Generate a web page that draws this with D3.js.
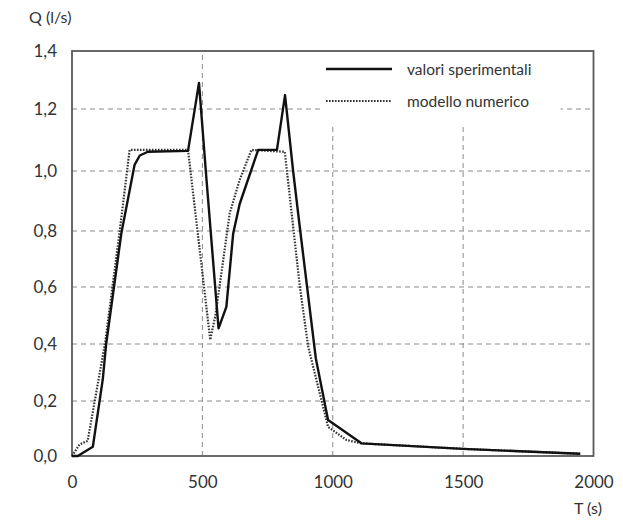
<!DOCTYPE html>
<html><head><meta charset="utf-8">
<script src="https://cdn.jsdelivr.net/npm/d3@7"></script>
<style>
html,body{margin:0;padding:0;background:#fff;}
svg{display:block;font-family:Lato, "DejaVu Sans", sans-serif;}
</style></head>
<body>
<svg id="chart" width="623" height="522"></svg>
<script>
// ---- data ----
const xTicks = [0, 500, 1000, 1500, 2000];
const yTicks = [0, 0.2, 0.4, 0.6, 0.8, 1.0, 1.2, 1.4];
const seriesNames = ["valori sperimentali", "modello numerico"];
const expT = [0, 22, 80, 118, 131, 189, 240, 260, 291, 445, 487, 515, 562, 592, 618, 643, 714, 786, 817, 848, 874, 935, 982, 1110, 1500, 1949];
const expQ = [0, 0, 0.034, 0.276, 0.4, 0.79, 1.02, 1.05, 1.062, 1.065, 1.29, 0.98, 0.455, 0.53, 0.79, 0.89, 1.068, 1.068, 1.248, 1.0, 0.81, 0.35, 0.131, 0.046, 0.026, 0.008];
const modT = [0, 29, 60, 128, 183, 221, 445, 530, 550, 573, 605, 643, 688, 816, 874, 906, 982, 1053, 1110, 1500, 1949];
const modQ = [0, 0.042, 0.055, 0.41, 0.8, 1.068, 1.068, 0.415, 0.5, 0.65, 0.86, 0.97, 1.068, 1.062, 0.6, 0.39, 0.106, 0.058, 0.046, 0.026, 0.008];

// ---- layout ----
const svg = d3.select("#chart");
const L = 72, R = 593.5, T = 51, B = 456;
const x = d3.scaleLinear().domain([0, 2000]).range([L, R]);
// scanned original has slightly uneven spacing: piecewise-linear scale
const y = d3.scaleLinear().domain(yTicks).range([456, 401, 344, 287, 231, 171, 109, 51]);
const fmt = d3.formatLocale({decimal: ",", thousands: ".", grouping: [3], currency: ["", ""]}).format(".1f");

// grid
const grid = svg.append("g").attr("stroke", "#8a8a8a").attr("stroke-width", 1).attr("stroke-dasharray", "5,4");
grid.selectAll(".hg").data(yTicks.filter(d => d > 0 && d < 1.4)).join("line")
  .attr("x1", L).attr("x2", R).attr("y1", d => y(d)).attr("y2", d => y(d));
grid.selectAll(".vg").data(xTicks.filter(d => d > 0 && d < 2000)).join("line")
  .attr("x1", d => x(d)).attr("x2", d => x(d)).attr("y1", B).attr("y2", T);

// legend box (hides grid beneath)
svg.append("rect").attr("x", 322).attr("y", T + 1).attr("width", R - 322 - 33).attr("height", 73).attr("fill", "#fff");

// frame
svg.append("rect").attr("x", L).attr("y", T).attr("width", R - L).attr("height", B - T)
  .attr("fill", "none").attr("stroke", "#5a5a5a").attr("stroke-width", 1.8);

// axes (labels only)
const yAxis = d3.axisLeft(y).tickValues(yTicks).tickFormat(fmt).tickSize(0).tickPadding(15);
const gy = svg.append("g").attr("transform", `translate(${L},0)`).call(yAxis);
const xAxis = d3.axisBottom(x).tickValues(xTicks).tickFormat(d => String(d)).tickSize(0).tickPadding(20);
const gx = svg.append("g").attr("transform", `translate(0,${B})`).call(xAxis);
[gx, gy].forEach(g => {
  g.select(".domain").remove();
  g.selectAll("text").attr("font-family", "Lato, 'DejaVu Sans', sans-serif").attr("font-size", 17).attr("fill", "#333");
});

// axis titles
svg.append("text").attr("x", 29).attr("y", 23).attr("font-size", 16).attr("fill", "#333").text("Q (l/s)");
svg.append("text").attr("x", 588).attr("y", 514).attr("text-anchor", "middle").attr("font-size", 16).attr("fill", "#333").text("T (s)");

// lines
const line = d3.line().x(d => x(d[0])).y(d => y(d[1]));
const expData = expT.map((t, i) => [t, expQ[i]]);
const modData = modT.map((t, i) => [t, modQ[i]]);
svg.append("path").datum(modData).attr("d", line).attr("fill", "none")
  .attr("stroke", "#333").attr("stroke-width", 2.2).attr("stroke-dasharray", "1.6,1.4");
svg.append("path").datum(expData).attr("d", line).attr("fill", "none")
  .attr("stroke", "#111").attr("stroke-width", 2.4).attr("stroke-linejoin", "round");

// legend
const lg = svg.append("g");
lg.append("line").attr("x1", 326).attr("x2", 392).attr("y1", 69).attr("y2", 69).attr("stroke", "#111").attr("stroke-width", 2.4);
lg.append("line").attr("x1", 326).attr("x2", 392).attr("y1", 101).attr("y2", 101).attr("stroke", "#333").attr("stroke-width", 2).attr("stroke-dasharray", "1.6,1.4");
lg.selectAll("text").data(seriesNames).join("text")
  .attr("x", 407).attr("y", (d, i) => 75 + i * 32).attr("font-size", 15.5).attr("fill", "#333").text(d => d);
</script>
</body></html>
